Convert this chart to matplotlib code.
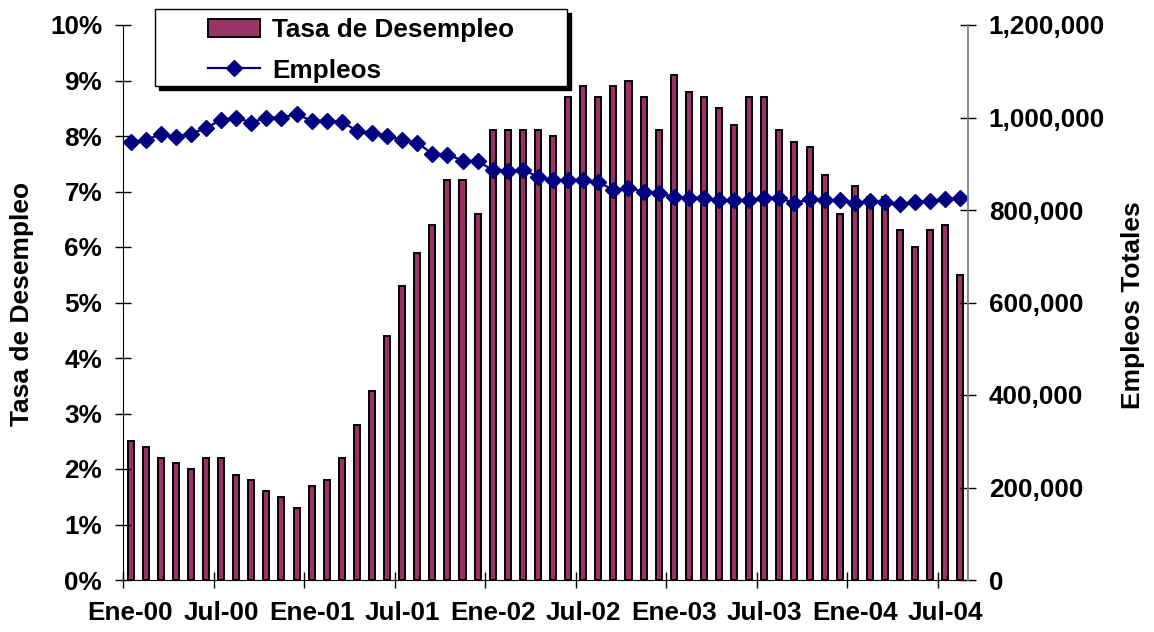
import matplotlib
matplotlib.use('Agg')
import matplotlib.pyplot as plt
from matplotlib.ticker import FuncFormatter
from matplotlib.patches import Rectangle, Patch
from matplotlib.lines import Line2D
import numpy as np

plt.rcParams['font.family'] = ['Liberation Sans', 'DejaVu Sans']
plt.rcParams['font.weight'] = 'bold'

# ---- data ----
tick_labels = ['Ene-00', 'Jul-00', 'Ene-01', 'Jul-01', 'Ene-02', 'Jul-02',
               'Ene-03', 'Jul-03', 'Ene-04', 'Jul-04']

tasa = [2.5, 2.4, 2.2, 2.1, 2.0, 2.2, 2.2, 1.9, 1.8, 1.6, 1.5, 1.3,
        1.7, 1.8, 2.2, 2.8, 3.4, 4.4, 5.3, 5.9, 6.4, 7.2, 7.2, 6.6,
        8.1, 8.1, 8.1, 8.1, 8.0, 8.7, 8.9, 8.7, 8.9, 9.0, 8.7, 8.1,
        9.1, 8.8, 8.7, 8.5, 8.2, 8.7, 8.7, 8.1, 7.9, 7.8, 7.3, 6.6,
        7.1, 6.9, 6.9, 6.3, 6.0, 6.3, 6.4, 5.5]

empleos = [946000, 951000, 964000, 958000, 965000, 977000, 995000, 1000000, 989000, 1000000, 1000000, 1007000,
           993000, 993000, 991000, 971000, 966000, 961000, 952000, 945000, 922000, 920000, 907000, 905000,
           887000, 885000, 887000, 872000, 865000, 865000, 865000, 861000, 843000, 847000, 840000, 836000,
           828000, 827000, 826000, 821000, 821000, 821000, 827000, 826000, 815000, 823000, 821000, 821000,
           815000, 819000, 818000, 813000, 817000, 819000, 823000, 827000]

bar_color = '#993366'
line_color = '#000080'

W, H = 1154, 632
fig = plt.figure(figsize=(W / 100, H / 100), dpi=100)
L, R, T, B = 123, 968, 25, 580
ax = fig.add_axes([L / W, 1 - B / H, (R - L) / W, (B - T) / H])

x = np.arange(len(tasa))
ax.bar(x, tasa, width=0.4, color=bar_color, edgecolor='black', linewidth=1.4)
ax.set_xlim(-0.5, len(tasa) - 0.5)
ax.set_ylim(0, 10)

ax2 = ax.twinx()
ax2.plot(x, empleos, color=line_color, lw=1.6, marker='D', ms=8,
         markeredgecolor=line_color, markerfacecolor=line_color)
ax2.set_ylim(0, 1200000)

# spines
for a in (ax, ax2):
    a.spines['top'].set_visible(False)
ax.spines['left'].set_color('black')
ax.spines['bottom'].set_color('black')
ax.spines['right'].set_visible(False)
ax2.spines['left'].set_visible(False)
ax2.spines['bottom'].set_visible(False)
ax2.spines['right'].set_color('#808080')
ax2.spines['right'].set_linewidth(1.3)

TFS = 18.8
# x ticks: marks at category boundaries, labels at category centers
lab_pos = np.arange(0, len(tasa), 6)
ax.set_xticks(lab_pos - 0.5)
ax.set_xticklabels([])
ax.set_xticks(lab_pos, minor=True)
ax.set_xticklabels(tick_labels, minor=True)
ax.tick_params(axis='x', which='major', direction='inout', length=12, width=1, color='black')
ax.tick_params(axis='x', which='minor', length=0, labelsize=TFS, pad=15)

ax.set_yticks(np.arange(0, 11, 1))
ax.yaxis.set_major_formatter(FuncFormatter(lambda v, p: f'{v:.0f}%'))
ax.tick_params(axis='y', direction='inout', length=12, width=1, labelsize=TFS, pad=9, color='black')

ax2.set_yticks(np.arange(0, 1200001, 200000))
ax2.yaxis.set_major_formatter(FuncFormatter(lambda v, p: f'{v:,.0f}'))
ax2.tick_params(axis='y', direction='inout', length=12, width=1, labelsize=TFS, pad=9, color='black')

for lab in ax.get_xticklabels(minor=True) + ax.get_yticklabels() + ax2.get_yticklabels():
    lab.set_fontweight('bold')

# axis titles
fig.text(22 / W, 1 - 303.5 / H, 'Tasa de Desempleo', rotation=90, ha='center', va='center',
         fontsize=19, fontweight='bold')
fig.text(1133 / W, 1 - 305.5 / H, 'Empleos Totales', rotation=90, ha='center', va='center',
         fontsize=19, fontweight='bold')

# legend box with shadow
bx0, by0, bx1, by1 = 155, 9, 567, 86
off = 4
fig.patches.append(Rectangle(((bx0 + off) / W, 1 - (by1 + off) / H), (bx1 - bx0) / W, (by1 - by0) / H,
                             transform=fig.transFigure, facecolor='black', edgecolor='black', zorder=5))
fig.patches.append(Rectangle((bx0 / W, 1 - by1 / H), (bx1 - bx0) / W, (by1 - by0) / H,
                             transform=fig.transFigure, facecolor='white', edgecolor='black', lw=1, zorder=6))

handles = [Patch(facecolor=bar_color, edgecolor='black', linewidth=1.4),
           Line2D([0], [0], color=line_color, lw=1.6, marker='D', ms=8)]
leg = fig.legend(handles, ['Tasa de Desempleo', 'Empleos'], loc='center',
                 bbox_to_anchor=((bx0 + bx1) / 2 / W, 1 - 50.5 / H),
                 frameon=False, prop={'weight': 'bold', 'size': 18.8},
                 handlelength=2.0, handletextpad=0.46, labelspacing=0.62, borderpad=0)
leg.set_zorder(7)

fig.savefig('out.png', dpi=100)
